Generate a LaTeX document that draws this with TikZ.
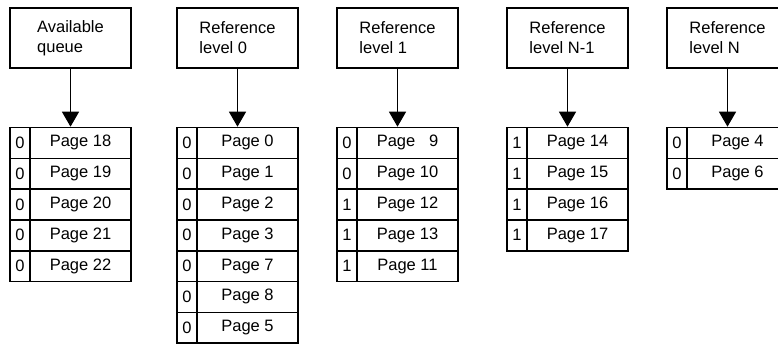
\documentclass[tikz,border=0pt]{standalone}
\usepackage{fontspec}
\setmainfont{Liberation Sans}
\usetikzlibrary{arrows.meta}

% one table row: name, left edge, row index, flag bit, page label
\newcommand{\pagerow}[5]{%
  \node[bitcell] (#1b) at ({#2+10},{142.9+30.8*#3}) {#4};
  \node[pagecell] (#1p) at ({#2+70.5},{142.9+30.8*#3}) {#5};
}

\begin{document}
\begin{tikzpicture}[x=1pt,y=-1pt]
        \tikzstyle{every node}=[font=\fontsize{16.5}{20}\selectfont]
        \tikzstyle{header}=[draw, line width=1.6pt, minimum width=121pt, minimum height=60pt, align=left, inner sep=0pt]
        \tikzstyle{bitcell}=[draw, line width=1.6pt, minimum width=20pt, minimum height=30.8pt, inner sep=0pt]
        \tikzstyle{pagecell}=[draw, line width=1.6pt, minimum width=101pt, minimum height=30.8pt, inner sep=0pt]
        \tikzstyle{pointer}=[line width=1.4pt, -{Triangle[width=17pt,length=15pt]}]

        \useasboundingbox (0,0) rectangle (778,345);
        \clip (0,0) rectangle (778,345);

        % queue heads
        \node[header] (avail) at (70.5,38) {Available\\queue};
        \node[header] (ref0) at (237.5,38) {Reference\\level 0};
        \node[header] (ref1) at (397.5,38) {Reference\\level 1};
        \node[header] (refm) at (567.5,38) {Reference\\level N-1};
        \node[header] (refn) at (727.5,38) {Reference\\level N};

        % available queue
        \pagerow{a1}{10}{0}{0}{Page 18}
        \pagerow{a2}{10}{1}{0}{Page 19}
        \pagerow{a3}{10}{2}{0}{Page 20}
        \pagerow{a4}{10}{3}{0}{Page 21}
        \pagerow{a5}{10}{4}{0}{Page 22}

        % level 0
        \pagerow{z1}{177}{0}{0}{Page 0}
        \pagerow{z2}{177}{1}{0}{Page 1}
        \pagerow{z3}{177}{2}{0}{Page 2}
        \pagerow{z4}{177}{3}{0}{Page 3}
        \pagerow{z5}{177}{4}{0}{Page 7}
        \pagerow{z6}{177}{5}{0}{Page 8}
        \pagerow{z7}{177}{6}{0}{Page 5}

        % level 1
        \pagerow{o1}{337}{0}{0}{Page \phantom{1}9}
        \pagerow{o2}{337}{1}{0}{Page 10}
        \pagerow{o3}{337}{2}{1}{Page 12}
        \pagerow{o4}{337}{3}{1}{Page 13}
        \pagerow{o5}{337}{4}{1}{Page 11}

        % level N-1
        \pagerow{m1}{507}{0}{1}{Page 14}
        \pagerow{m2}{507}{1}{1}{Page 15}
        \pagerow{m3}{507}{2}{1}{Page 16}
        \pagerow{m4}{507}{3}{1}{Page 17}

        % level N
        \pagerow{n1}{667}{0}{0}{Page 4}
        \pagerow{n2}{667}{1}{0}{Page 6}

        \draw[pointer] (avail.south) -- (avail.south |- a1p.north);
        \draw[pointer] (ref0.south) -- (ref0.south |- z1p.north);
        \draw[pointer] (ref1.south) -- (ref1.south |- o1p.north);
        \draw[pointer] (refm.south) -- (refm.south |- m1p.north);
        \draw[pointer] (refn.south) -- (refn.south |- n1p.north);
    \end{tikzpicture}
\end{document}
